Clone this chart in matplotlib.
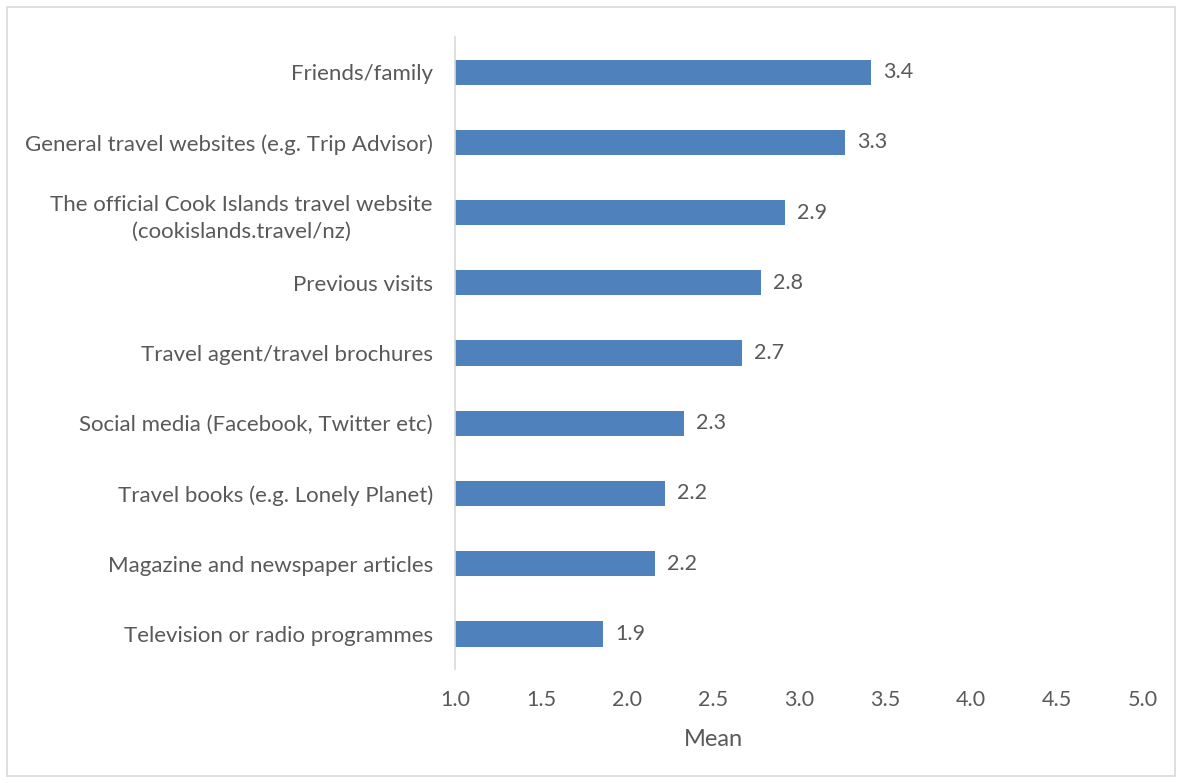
import numpy as np
import matplotlib
matplotlib.use("Agg")
import matplotlib.pyplot as plt
from matplotlib.patches import Rectangle

# source categories, top to bottom
categories = [
    "Friends/family",
    "General travel websites (e.g. Trip Advisor)",
    "The official Cook Islands travel website\n(cookislands.travel/nz)",
    "Previous visits",
    "Travel agent/travel brochures",
    "Social media (Facebook, Twitter etc)",
    "Travel books (e.g. Lonely Planet)",
    "Magazine and newspaper articles",
    "Television or radio programmes",
]
means = [3.42, 3.27, 2.92, 2.78, 2.67, 2.33, 2.22, 2.16, 1.86]
xticks = [1.0, 1.5, 2.0, 2.5, 3.0, 3.5, 4.0, 4.5, 5.0]

txt = "#595959"
plt.rcParams["font.family"] = ["Lato", "DejaVu Sans"]

fig = plt.figure(figsize=(11.81, 7.83), dpi=100)
ax = fig.add_axes([0.3853, 0.1456, 0.5825, 0.8071])

y = np.arange(len(categories))
base = 1.0
ax.barh(y, np.array(means) - base, left=base, height=0.36, color="#4F81BD")
for yi, m in zip(y, means):
    ax.text(m + 0.07, yi, "%.1f" % m, va="center", ha="left", fontsize=15.5, color=txt)

ax.set_xlim(1.0, 5.0)
ax.set_ylim(len(categories) - 0.5, -0.5)
ax.set_yticks(y)
ax.set_yticklabels(categories, fontsize=16, color=txt, ha="right",
                   multialignment="center", linespacing=1.45)
ax.tick_params(axis="y", length=0, pad=16)
ax.set_xticks(xticks)
ax.set_xticklabels(["%.1f" % t for t in xticks], fontsize=15.5, color=txt)
ax.tick_params(axis="x", length=0, pad=15)
ax.set_xlabel("Mean", fontsize=17, color=txt, labelpad=14)
ax.xaxis.label.set_x(0.375)

for s in ["top", "right", "bottom"]:
    ax.spines[s].set_visible(False)
ax.spines["left"].set_color("#D9D9D9")
ax.spines["left"].set_linewidth(1.2)

# light frame round the whole chart
fig.patches.append(Rectangle((0.006, 0.009), 0.989, 0.982, transform=fig.transFigure,
                             fill=False, edgecolor="#D9D9D9", linewidth=1.2))

fig.savefig("out.png", dpi=100)
